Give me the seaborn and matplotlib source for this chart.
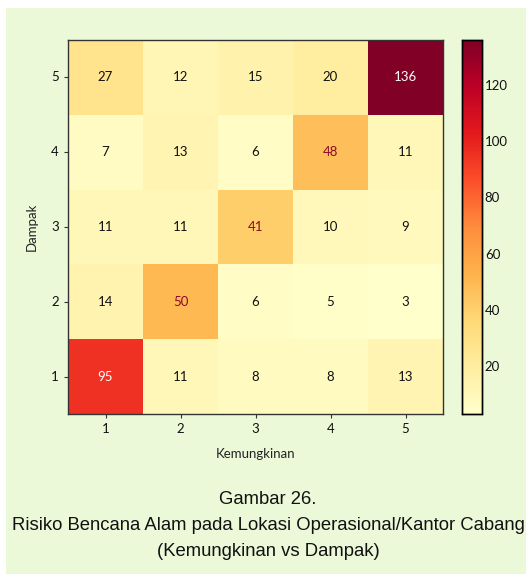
import numpy as np
import pandas as pd
import matplotlib
matplotlib.use("Agg")
import matplotlib.pyplot as plt
from matplotlib.patches import Rectangle
import seaborn as sns

# Risk matrix: rows = Dampak (5 at top), columns = Kemungkinan 1..5
kemungkinan = [1, 2, 3, 4, 5]
dampak = [5, 4, 3, 2, 1]
row_d5 = [27, 12, 15, 20, 136]
row_d4 = [7, 13, 6, 48, 11]
row_d3 = [11, 11, 41, 10, 9]
row_d2 = [14, 50, 6, 5, 3]
row_d1 = [95, 11, 8, 8, 13]

df = pd.DataFrame([row_d5, row_d4, row_d3, row_d2, row_d1],
                  index=dampak, columns=kemungkinan)

sns.set_style("white")
plt.rcParams["font.family"] = ["Lato", "DejaVu Sans"]

bg = "#ECF9D9"
fig = plt.figure(figsize=(5.26, 5.81), dpi=100, facecolor="white")
fig.patches.append(Rectangle((6 / 526, 7 / 581), 520 / 526, 566 / 581,
                             transform=fig.transFigure, facecolor=bg,
                             edgecolor="none", zorder=-10))

ax = fig.add_axes([68 / 526, 1 - 414 / 581, 375 / 526, 374 / 581])
cax = fig.add_axes([462 / 526, 1 - 414 / 581, 20 / 526, 374 / 581])

sns.heatmap(df, ax=ax, cbar_ax=cax, cmap="YlOrRd", annot=True, fmt="d",
            annot_kws={"fontsize": 9.5})

for t in ax.texts:
    v = int(t.get_text())
    if v >= 90:
        t.set_color("white")
    elif v >= 40:
        t.set_color("#8B0A26")
    else:
        t.set_color("#111111")

ax.set_facecolor(bg)
for s in ax.spines.values():
    s.set_visible(True)
    s.set_color("#333333")
    s.set_linewidth(1.0)
ax.tick_params(axis="both", length=3, width=0.8, color="#333333",
               labelsize=9.5, labelcolor="#111111", bottom=True, left=True)
ax.set_yticklabels(dampak, rotation=0)
ax.set_xticklabels(kemungkinan, rotation=0)
ax.set_xlabel("Kemungkinan", fontsize=9.5, labelpad=9, color="#222222")
ax.set_ylabel("Dampak", fontsize=9.5, labelpad=10, color="#222222")

cax.tick_params(labelsize=9.5, length=0, pad=2, labelcolor="#111111")
cax.set_yticks([20, 40, 60, 80, 100, 120])
cax.yaxis.set_ticklabels(["20", "40", "60", "80", "100", "120"])
for s in cax.spines.values():
    s.set_visible(True)
    s.set_color("black")
    s.set_linewidth(1.0)

cap = dict(ha="center", va="center", fontsize=13.3, color="#111111",
           family=["Liberation Sans", "DejaVu Sans"])
fig.text(268 / 526, 1 - 500 / 581, "Gambar 26.", **cap)
fig.text(268 / 526, 1 - 526 / 581,
         "Risiko Bencana Alam pada Lokasi Operasional/Kantor Cabang", **cap)
fig.text(268 / 526, 1 - 551 / 581, "(Kemungkinan vs Dampak)", **cap)

fig.savefig("out.png", dpi=100, facecolor="white")
